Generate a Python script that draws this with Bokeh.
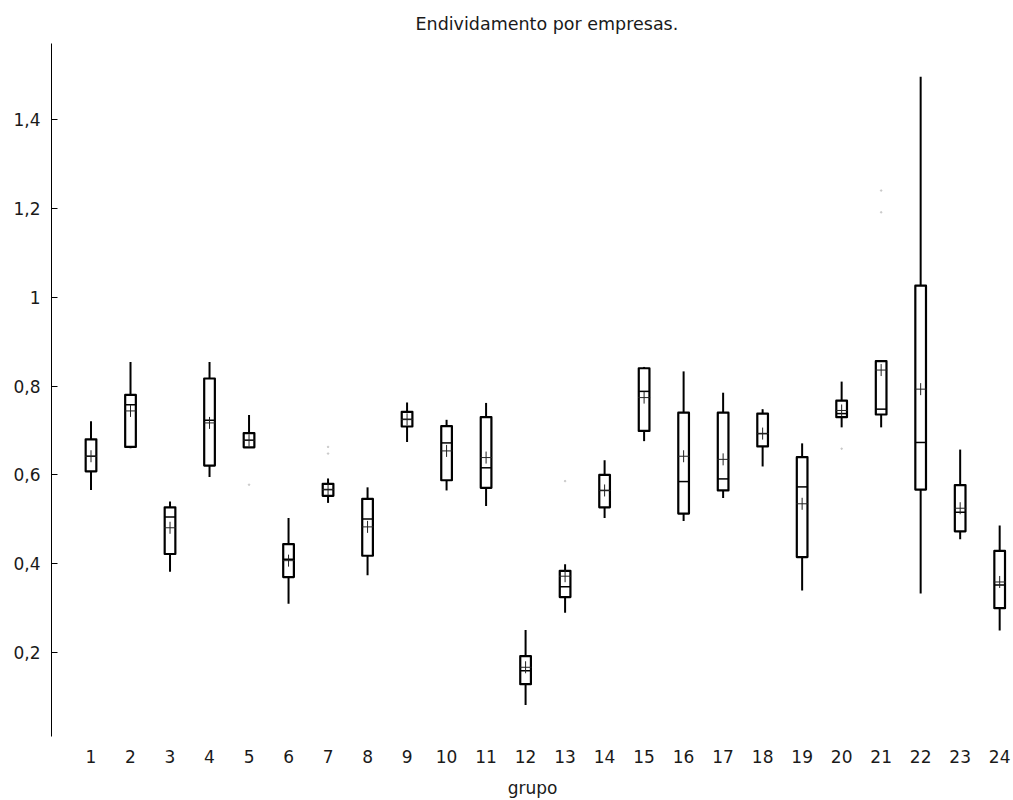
from bokeh.plotting import figure
from bokeh.models import ColumnDataSource, FixedTicker, CustomJSTickFormatter, Range1d
from bokeh.embed import file_html
from bokeh.resources import INLINE

groups = list(range(1, 25))
whisker_hi = [0.721, 0.854, 0.540, 0.854, 0.735, 0.503, 0.592, 0.572, 0.763, 0.724, 0.762, 0.251,
              0.399, 0.633, 0.843, 0.833, 0.785, 0.748, 0.671, 0.810, 0.856, 1.496, 0.657, 0.486]
q3 = [0.680, 0.780, 0.527, 0.817, 0.694, 0.444, 0.580, 0.546, 0.742, 0.710, 0.730, 0.192,
      0.384, 0.600, 0.840, 0.740, 0.740, 0.738, 0.640, 0.767, 0.856, 1.026, 0.577, 0.429]
median = [0.642, 0.758, 0.505, 0.723, 0.678, 0.410, 0.567, 0.501, 0.725, 0.672, 0.616, 0.159,
          0.348, 0.565, 0.788, 0.585, 0.591, 0.693, 0.573, 0.738, 0.748, 0.673, 0.516, 0.352]
mean = [0.642, 0.744, 0.481, 0.717, 0.678, 0.407, 0.567, 0.483, 0.725, 0.654, 0.639, 0.167,
        0.372, 0.565, 0.774, 0.642, 0.635, 0.693, 0.535, 0.745, 0.836, 0.793, 0.525, 0.359]
q1 = [0.608, 0.663, 0.422, 0.621, 0.662, 0.370, 0.553, 0.418, 0.709, 0.588, 0.571, 0.129,
      0.325, 0.527, 0.699, 0.513, 0.565, 0.664, 0.415, 0.730, 0.736, 0.567, 0.473, 0.300]
whisker_lo = [0.566, 0.660, 0.382, 0.595, 0.662, 0.310, 0.537, 0.374, 0.674, 0.565, 0.530, 0.082,
              0.290, 0.503, 0.676, 0.496, 0.548, 0.619, 0.340, 0.707, 0.707, 0.333, 0.455, 0.250]
outlier_group = [5, 7, 7, 13, 20, 21, 21]
outlier_value = [0.578, 0.663, 0.648, 0.586, 0.659, 1.240, 1.191]
y_ticks = [0.2, 0.4, 0.6, 0.8, 1.0, 1.2, 1.4]
title_text = "Endividamento por empresas."

BOX_W = 0.27
src = ColumnDataSource(dict(
    x=groups, whi=whisker_hi, q3=q3, med=median, mean=mean, q1=q1, wlo=whisker_lo,
    left=[g - BOX_W / 2 for g in groups], right=[g + BOX_W / 2 for g in groups],
))
osrc = ColumnDataSource(dict(x=outlier_group, y=outlier_value))

FONT = "DejaVu Sans"
p = figure(width=1013, height=800, output_backend="svg", toolbar_location=None,
           x_range=Range1d(0, 24.35), y_range=Range1d(0.0112, 1.571),
           min_border_left=51, min_border_right=0, min_border_top=43, min_border_bottom=62,
           title=title_text)
p.title.align = "left"
p.title.offset = 364
p.title.standoff = 20
p.title.text_font = FONT
p.title.text_font_size = "17.5px"
p.title.text_font_style = "normal"
p.title.text_color = "#1a1a1a"
p.outline_line_color = None
p.grid.visible = False

# whiskers
p.segment(x0="x", y0="q3", x1="x", y1="whi", source=src, line_color="black", line_width=2)
p.segment(x0="x", y0="wlo", x1="x", y1="q1", source=src, line_color="black", line_width=2)
# boxes
p.quad(left="left", right="right", bottom="q1", top="q3", source=src,
       fill_color="white", line_color="black", line_width=2.2, line_join="round")
# medians
p.segment(x0="left", y0="med", x1="right", y1="med", source=src, line_color="black", line_width=1.5)
# means
p.scatter(x="x", y="mean", source=src, marker="cross", size=12, line_color="#222222", line_width=1)
# outliers
p.scatter(x="x", y="y", source=osrc, marker="circle", size=1.5, line_color="#c8c8c8", fill_color="#c8c8c8")

xa = p.xaxis[0]
xa.ticker = FixedTicker(ticks=groups)
xa.axis_line_color = None
xa.major_tick_line_color = None
xa.minor_tick_line_color = None
xa.major_label_text_font = FONT
xa.major_label_text_font_size = "17px"
xa.major_label_text_color = "#1a1a1a"
xa.major_label_standoff = 7
xa.axis_label = "grupo"
xa.axis_label_text_font = FONT
xa.axis_label_text_font_size = "17px"
xa.axis_label_text_font_style = "normal"
xa.axis_label_text_color = "#1a1a1a"
xa.axis_label_standoff = 12

ya = p.yaxis[0]
ya.ticker = FixedTicker(ticks=y_ticks)
ya.formatter = CustomJSTickFormatter(code="var s = (Math.round(tick*10)/10).toString(); return s.replace('.', ',');")
ya.axis_line_color = "black"
ya.axis_line_width = 1
ya.major_tick_in = 6
ya.major_tick_out = 0
ya.major_tick_line_color = "black"
ya.minor_tick_line_color = None
ya.major_label_text_font = FONT
ya.major_label_text_font_size = "17px"
ya.major_label_text_color = "#1a1a1a"
ya.major_label_standoff = 11

open("out.html", "w").write(file_html(p, INLINE))
